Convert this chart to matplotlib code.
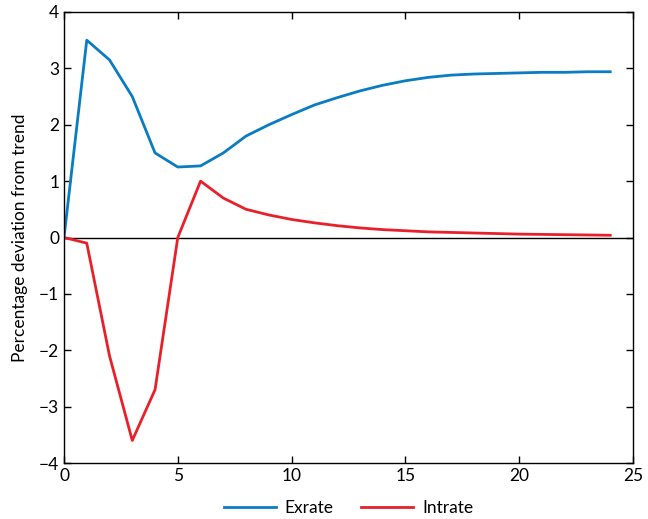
import matplotlib
matplotlib.use('agg')
import matplotlib.pyplot as plt

plt.rcParams['font.family'] = ['Lato', 'DejaVu Sans']

periods = list(range(25))
exrate = [0, 3.5, 3.15, 2.5, 1.5, 1.25, 1.27, 1.5, 1.8, 2.0, 2.18, 2.35, 2.48,
          2.6, 2.7, 2.78, 2.84, 2.88, 2.9, 2.91, 2.92, 2.93, 2.93, 2.94, 2.94]
intrate = [0, -0.1, -2.1, -3.6, -2.7, 0, 1.0, 0.7, 0.5, 0.4, 0.32, 0.26, 0.21,
           0.17, 0.14, 0.12, 0.1, 0.09, 0.08, 0.07, 0.06, 0.055, 0.05, 0.045, 0.04]

fig = plt.figure(figsize=(6.48, 5.19), dpi=100)
ax = fig.add_axes([64/648, 56/519, 569/648, 451/519])

ax.axhline(0, color='black', lw=1)
ax.plot(periods, exrate, color='#0a7cc2', lw=2, label='Exrate')
ax.plot(periods, intrate, color='#e8202a', lw=2, label='Intrate')

ax.set_xlim(0, 25)
ax.set_ylim(-4, 4)
ax.set_xticks([0, 5, 10, 15, 20, 25])
ax.set_yticks(range(-4, 5))
ax.set_yticklabels(['\u2212' + str(-v) if v < 0 else str(v) for v in range(-4, 5)])
ax.tick_params(direction='in', top=True, right=True, labelsize=12.5, length=5, width=1)
for s in ax.spines.values():
    s.set_linewidth(1)
ax.set_ylabel('Percentage deviation from trend', fontsize=12.5, labelpad=8)

ax.legend(loc='center', bbox_to_anchor=(0.5, -0.1), ncol=2, frameon=False,
          fontsize=12.5, handlelength=3.0, handletextpad=0.5, columnspacing=1.6)

plt.savefig('out.png', dpi=100)
